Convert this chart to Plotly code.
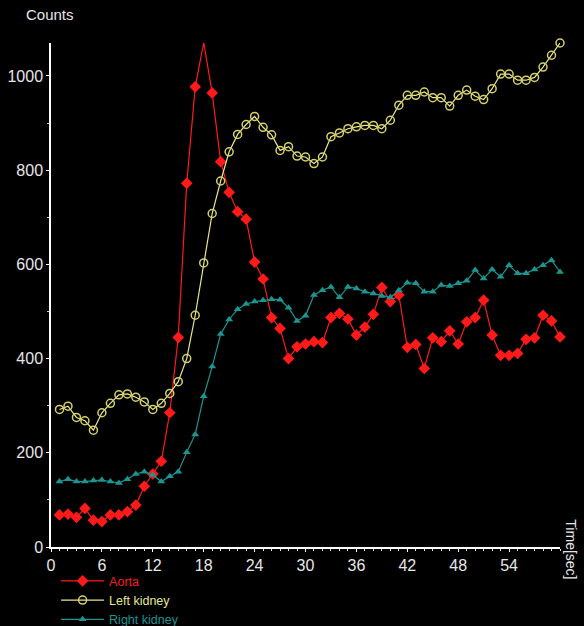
import plotly.graph_objects as go

time_sec = list(range(1, 61))

aorta = [68, 70, 63, 82, 57, 54, 68, 68, 75, 89,
         129, 155, 182, 285, 445, 772, 977, 1071, 964, 818,
         753, 712, 696, 605, 569, 487, 464, 400, 425, 431,
         436, 434, 487, 496, 484, 450, 467, 494, 551, 521,
         535, 424, 430, 379, 444, 436, 459, 431, 478, 487,
         524, 450, 407, 407, 411, 441, 444, 492, 480, 446]

left_kidney = [292, 299, 275, 268, 248, 285, 305, 323, 325, 318,
               308, 292, 305, 326, 351, 400, 492, 603, 708, 777,
               839, 876, 897, 914, 891, 875, 842, 850, 830, 828,
               814, 828, 871, 879, 888, 892, 895, 895, 888, 906,
               938, 959, 959, 966, 954, 954, 936, 959, 970, 957,
               950, 973, 1004, 1004, 991, 991, 997, 1019, 1044, 1070]

right_kidney = [139, 144, 139, 139, 141, 142, 139, 136, 144, 155,
                160, 153, 139, 150, 160, 201, 239, 320, 383, 452,
                483, 505, 516, 521, 524, 526, 525, 508, 480, 491,
                535, 545, 552, 530, 552, 549, 542, 538, 533, 530,
                545, 561, 560, 542, 542, 556, 554, 560, 565, 588,
                570, 589, 574, 598, 581, 581, 589, 598, 609, 584]

x_ticks = [0, 6, 12, 18, 24, 30, 36, 42, 48, 54]
y_ticks = [0, 200, 400, 600, 800, 1000]

RED = "#ff1a1a"
YEL_LINE = "#e8e890"
YEL_MK = "#d6d06a"
TEAL = "#1c9490"

fig = go.Figure()
fig.add_trace(go.Scatter(
    x=time_sec, y=aorta, mode="lines+markers",
    name=f"<span style='color:{RED}'>Aorta</span>",
    line=dict(color=RED, width=1.2),
    marker=dict(symbol="diamond", size=9, color=RED),
    cliponaxis=False))
fig.add_trace(go.Scatter(
    x=time_sec, y=left_kidney, mode="lines+markers",
    name=f"<span style='color:{YEL_LINE}'>Left kidney</span>",
    line=dict(color=YEL_LINE, width=1.2),
    marker=dict(symbol="circle-open", size=8, color=YEL_MK, line=dict(width=1.5, color=YEL_MK)),
    cliponaxis=False))
fig.add_trace(go.Scatter(
    x=time_sec, y=right_kidney, mode="lines+markers",
    name=f"<span style='color:{TEAL}'>Right kidney</span>",
    line=dict(color=TEAL, width=1.2),
    marker=dict(symbol="triangle-up", size=7, color=TEAL),
    cliponaxis=False))

font_family = "Liberation Sans, Arial, sans-serif"
fig.update_layout(
    width=584, height=626,
    paper_bgcolor="black", plot_bgcolor="black",
    margin=dict(l=51, r=24, t=43, b=79, autoexpand=False),
    font=dict(family=font_family, color="#e6e6e6", size=16),
    showlegend=True,
    legend=dict(x=0.01, y=-0.038, xanchor="left", yanchor="top",
                bgcolor="rgba(0,0,0,0)", font=dict(size=12.5, color="#e6e6e6"),
                tracegroupgap=0, itemwidth=43),
    xaxis=dict(range=[0, 60], tickmode="array", tickvals=x_ticks,
               showgrid=False, zeroline=False, showline=True,
               linecolor="white", linewidth=1.5,
               ticks="outside", ticklen=3, tickcolor="white",
               minor=dict(tickmode="linear", tick0=0, dtick=1, ticks="outside",
                          ticklen=2, tickcolor="#dddddd", showgrid=False),
               tickfont=dict(size=16, color="#e6e6e6")),
    yaxis=dict(range=[0, 1070], tickmode="array", tickvals=y_ticks,
               showgrid=False, zeroline=False, showline=True,
               linecolor="white", linewidth=1.5,
               ticks="outside", ticklen=3, tickcolor="white",
               minor=dict(tickmode="linear", tick0=0, dtick=100, ticks="outside",
                          ticklen=2, tickcolor="#cccccc", showgrid=False),
               tickfont=dict(size=16, color="#e6e6e6")),
    annotations=[
        dict(text="Counts", xref="paper", yref="paper", x=-0.053, y=1.035,
             xanchor="left", yanchor="bottom", showarrow=False,
             font=dict(size=15, color="#e6e6e6")),
        dict(text="Time[sec]", xref="paper", yref="paper", x=1.021, y=-0.004,
             xanchor="center", yanchor="middle", textangle=90, showarrow=False,
             font=dict(size=14, color="#e6e6e6")),
    ],
)

fig.write_html("out.html", config={"displayModeBar": False},
               post_script="document.body.style.margin='0';document.body.style.overflow='hidden';")
